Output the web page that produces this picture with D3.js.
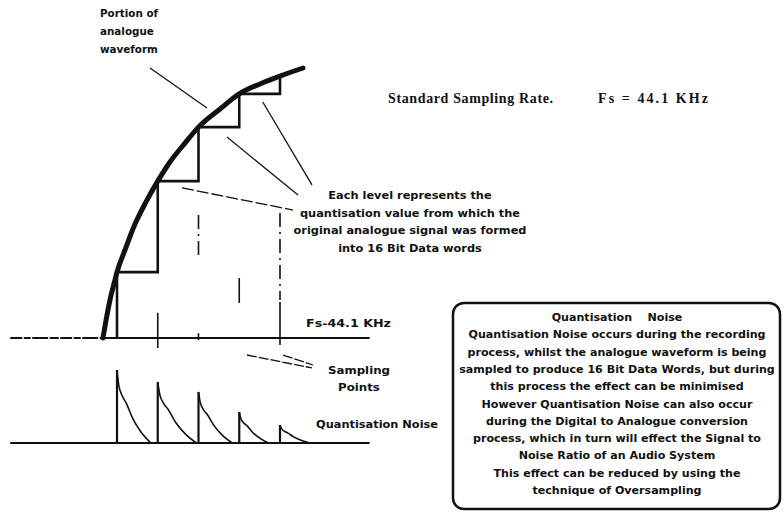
<!DOCTYPE html>
<html>
<head>
<meta charset="utf-8">
<script src="https://cdn.jsdelivr.net/npm/d3@7"></script>
<style>
html,body{margin:0;padding:0;background:#fff;}
svg{display:block;}
text{fill:#111;}
</style>
</head>
<body>
<svg id="chart" width="784" height="512"></svg>
<script>
// ---------- data ----------
// analogue waveform: time (in sample periods) and normalised amplitude
const waveT = [0.656, 0.755, 0.828, 0.951, 1.0, 1.196, 1.442, 1.712, 2.0, 2.30, 2.669, 3.0, 3.528, 4.0, 4.509, 5.0, 5.564];
const waveA = [0.0, 0.085, 0.141, 0.215, 0.244, 0.326, 0.422, 0.504, 0.581, 0.652, 0.722, 0.781, 0.848, 0.904, 0.941, 0.970, 1.0];
// sampling instants and the held (quantised) levels
const sampleT = [1, 2, 3, 4, 5];
const heldLevel = [0.244, 0.581, 0.781, 0.904, 0.970];
// quantisation noise: impulse height at each sample and decay span (in sample periods)
const noiseAmp = [1.0, 0.836, 0.699, 0.425, 0.247];
const noiseSpan = [0.83, 0.95, 0.83, 0.72, 0.73];
// decay profile of each noise impulse (fraction of span, fraction of height)
const decayPhase = [0, 0.05, 0.14, 0.27, 0.46, 0.71, 1.0];
const decayLevel = [1.0, 0.80, 0.66, 0.55, 0.34, 0.15, 0.0];
// sampling-point markers around the time axis (time, top amp, bottom amp, kind)
const markT = [2, 3, 3, 4, 5, 5];
const markTop = [0.093, 0.456, 0.018, 0.222, 0.463, 0.133];
const markBottom = [-0.037, 0.307, -0.008, 0.130, 0.141, -0.026];
const markKind = ["solid", "dashdot", "solid", "solid", "dashdot", "solid"];
// text
const titleParts = ["Standard Sampling Rate.", "Fs = 44.1 KHz"];
const waveLabel = ["Portion of", "analogue", "waveform"];
const levelLabel = ["Each level represents the", "quantisation value from which the", "original analogue signal was formed", "into 16 Bit Data words"];
const fsLabel = ["Fs-44.1 KHz"];
const samplingLabel = ["Sampling", "Points"];
const noiseLabel = ["Quantisation Noise"];
const boxLines = [
  "Quantisation    Noise",
  "Quantisation Noise occurs during the recording",
  "process, whilst the analogue waveform is being",
  "sampled to produce 16 Bit Data Words, but during",
  "this process the effect can be minimised",
  "However Quantisation Noise can also occur",
  "during the Digital to Analogue conversion",
  "process, which in turn will effect the Signal to",
  "Noise Ratio of an Audio System",
  "This effect can be reduced by using the",
  "technique of Oversampling"
];

// ---------- scales ----------
const svg = d3.select("#chart");
const x = d3.scaleLinear().domain([0, 1]).range([76.25, 117]);      // time in sample periods
const y = d3.scaleLinear().domain([0, 1]).range([338, 68]);         // waveform amplitude
const yN = d3.scaleLinear().domain([0, 1]).range([443, 370]);       // noise amplitude
const axisT = [-1.62, 7.2];

const ink = "#111";

// time axes (signal and noise); the signal axis is slightly broken before the waveform starts
svg.append("line").attr("x1", x(axisT[0])).attr("x2", x(waveT[0]))
  .attr("y1", y(0)).attr("y2", y(0)).attr("stroke", ink).attr("stroke-width", 2.2)
  .attr("stroke-dasharray", "12,1.5,7,1.5,16,1.5,9,1.5");
svg.append("line").attr("x1", x(waveT[0])).attr("x2", x(axisT[1]))
  .attr("y1", y(0)).attr("y2", y(0)).attr("stroke", ink).attr("stroke-width", 2.2);
svg.append("line").attr("x1", x(axisT[0])).attr("x2", x(axisT[1]))
  .attr("y1", yN(0)).attr("y2", yN(0)).attr("stroke", ink).attr("stroke-width", 2.2);

// analogue waveform
const wave = waveT.map((t, i) => [t, waveA[i]]);
svg.append("path").datum(wave)
  .attr("d", d3.line().x(d => x(d[0])).y(d => y(d[1])).curve(d3.curveMonotoneX))
  .attr("fill", "none").attr("stroke", ink).attr("stroke-width", 5).attr("stroke-linecap", "round");

// sample & hold staircase
const steps = [[sampleT[0], 0]].concat(sampleT.map((t, i) => [t, heldLevel[i]]));
svg.append("path").datum(steps)
  .attr("d", d3.line().x(d => x(d[0])).y(d => y(d[1])).curve(d3.curveStepAfter))
  .attr("fill", "none").attr("stroke", ink).attr("stroke-width", 2.6);

// sampling markers
markT.forEach((t, i) => {
  svg.append("line").attr("x1", x(t)).attr("x2", x(t))
    .attr("y1", y(markTop[i])).attr("y2", y(markBottom[i]))
    .attr("stroke", ink).attr("stroke-width", 1.6)
    .attr("stroke-dasharray", markKind[i] === "dashdot" ? "14,5,2,5" : null);
});

// quantisation noise impulses
sampleT.forEach((t, i) => {
  svg.append("line").attr("x1", x(t)).attr("x2", x(t))
    .attr("y1", yN(0)).attr("y2", yN(noiseAmp[i]))
    .attr("stroke", ink).attr("stroke-width", 2.2);
  const pts = decayPhase.map((p, j) => [t + p * noiseSpan[i], decayLevel[j] * noiseAmp[i]]);
  svg.append("path").datum(pts)
    .attr("d", d3.line().x(d => x(d[0])).y(d => yN(d[1])).curve(d3.curveMonotoneX))
    .attr("fill", "none").attr("stroke", ink).attr("stroke-width", 1.6);
});

// leader lines (in data coordinates)
const leaders = [
  {a: [1.81, 1.0], b: [3.209, 0.852], dash: null},
  {a: [4.577, 0.874], b: [5.785, 0.567], dash: null},
  {a: [3.699, 0.744], b: [5.442, 0.530], dash: null},
  {a: [2.595, 0.556], b: [5.319, 0.474], dash: "12,3"},
  {a: [4.19, -0.063], b: [5.785, -0.111], dash: "10,2"},
  {a: [5.074, -0.063], b: [5.81, -0.100], dash: "10,2"}
];
leaders.forEach(l => {
  svg.append("line").attr("x1", x(l.a[0])).attr("y1", y(l.a[1]))
    .attr("x2", x(l.b[0])).attr("y2", y(l.b[1]))
    .attr("stroke", ink).attr("stroke-width", 1.3)
    .attr("stroke-dasharray", l.dash);
});

// ---------- text ----------
const sans = "'DejaVu Sans', sans-serif";
// widen a text group so that its reference line gets the target width
function widen(sel, refIndex, target) {
  const nodes = sel.nodes();
  const f = target / nodes[refIndex].getComputedTextLength();
  nodes.forEach(n => {
    const w = n.getComputedTextLength();
    n.setAttribute("textLength", w * f);
    n.setAttribute("lengthAdjust", "spacingAndGlyphs");
  });
}

const title = svg.selectAll(".tt").data(titleParts).join("text")
  .attr("x", (d, i) => i === 0 ? 388 : 598).attr("y", 103)
  .attr("font-family", "'Liberation Serif', serif").attr("font-weight", "bold")
  .attr("font-size", 14).text(d => d);
title.nodes()[0].setAttribute("textLength", 165);
title.nodes()[1].setAttribute("textLength", 110);

const wl = svg.selectAll(".wl").data(waveLabel).join("text")
  .attr("x", 100).attr("y", (d, i) => 17 + i * 18)
  .attr("font-family", sans).attr("font-weight", "bold").attr("font-size", 10).text(d => d);
widen(wl, 0, 58);

const ll = svg.selectAll(".ll").data(levelLabel).join("text")
  .attr("x", 410).attr("y", (d, i) => 199 + i * 17.7).attr("text-anchor", "middle")
  .attr("font-family", sans).attr("font-weight", "bold").attr("font-size", 10.5).text(d => d);
widen(ll, 2, 233);

const fl = svg.selectAll(".fl").data(fsLabel).join("text").attr("x", 306).attr("y", 327)
  .attr("font-family", sans).attr("font-weight", "bold").attr("font-size", 10.5).text(d => d);
widen(fl, 0, 85);

const sl = svg.selectAll(".sl").data(samplingLabel).join("text")
  .attr("x", 359).attr("y", (d, i) => 374 + i * 17).attr("text-anchor", "middle")
  .attr("font-family", sans).attr("font-weight", "bold").attr("font-size", 10.5).text(d => d);
widen(sl, 0, 62);

const nl = svg.selectAll(".nl").data(noiseLabel).join("text").attr("x", 316).attr("y", 428)
  .attr("font-family", sans).attr("font-weight", "bold").attr("font-size", 10.5).text(d => d);
widen(nl, 0, 122);

// note box
svg.append("rect").attr("x", 453).attr("y", 303).attr("width", 327).attr("height", 206)
  .attr("rx", 11).attr("ry", 11).attr("fill", "none").attr("stroke", ink).attr("stroke-width", 2.5);

const bl = svg.selectAll(".bl").data(boxLines).join("text")
  .attr("x", 617).attr("y", (d, i) => 321 + i * 17.3).attr("text-anchor", "middle")
  .attr("font-family", sans).attr("font-weight", "bold").attr("font-size", 10.5)
  .style("white-space", "pre").text(d => d);
widen(bl, 1, 297);
</script>
</body>
</html>
